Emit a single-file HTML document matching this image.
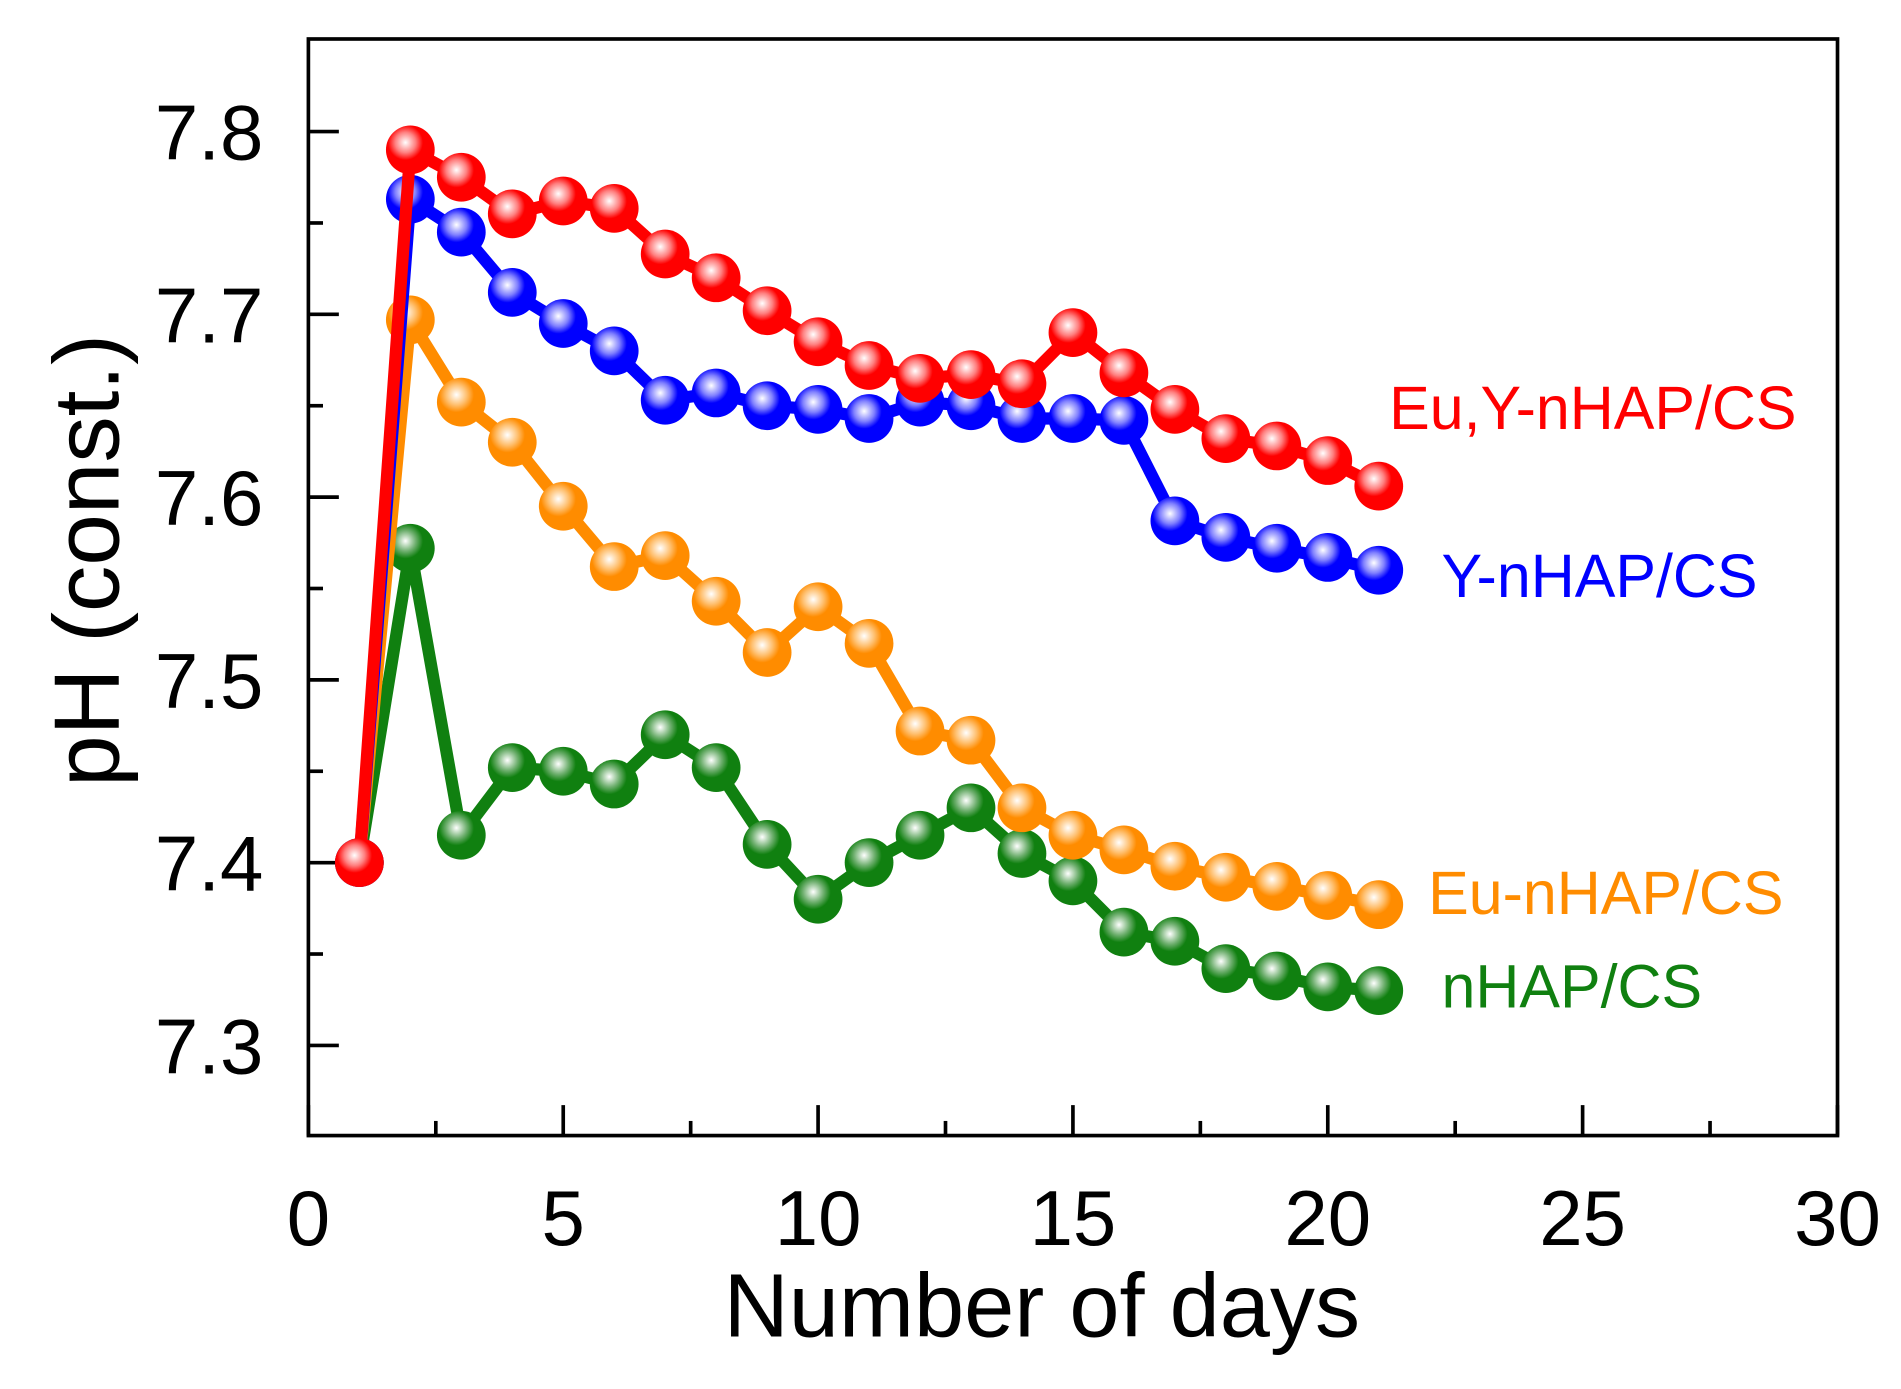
<!DOCTYPE html>
<html><head><meta charset="utf-8"><style>html,body{margin:0;padding:0;background:#fff}svg{display:block}</style></head><body>
<svg width="1901" height="1389" viewBox="0 0 1560 1140" xmlns="http://www.w3.org/2000/svg" font-family="Liberation Sans, Arial, sans-serif">
<defs>
<radialGradient id="gr" cx="0.4" cy="0.35" r="0.6"><stop offset="0" stop-color="#fff"/><stop offset="0.35" stop-color="#ff8080"/><stop offset="0.6" stop-color="#f00"/></radialGradient>
<radialGradient id="gb" cx="0.4" cy="0.35" r="0.6"><stop offset="0" stop-color="#fff"/><stop offset="0.35" stop-color="#8080ff"/><stop offset="0.6" stop-color="#00f"/></radialGradient>
<radialGradient id="go" cx="0.4" cy="0.35" r="0.6"><stop offset="0" stop-color="#fff"/><stop offset="0.35" stop-color="#ffc070"/><stop offset="0.6" stop-color="#ff8c00"/></radialGradient>
<radialGradient id="gg" cx="0.4" cy="0.35" r="0.6"><stop offset="0" stop-color="#fff"/><stop offset="0.35" stop-color="#70b070"/><stop offset="0.6" stop-color="#108010"/></radialGradient>
</defs>
<rect x="253" y="32" width="1255" height="900" fill="none" stroke="#000" stroke-width="3"/>
<g id="ticks" stroke="#000" stroke-width="3"></g>
<g font-size="64" fill="#000" text-anchor="end" id="ylab"></g>
<g font-size="64" fill="#000" text-anchor="middle" id="xlab"></g>
<text x="855" y="1097" font-size="74" text-anchor="middle">Number of days</text>
<text transform="translate(97,460) rotate(-90)" font-size="76" text-anchor="middle">pH (const.)</text>
<g id="series"></g>
<text x="1140" y="352" font-size="50" fill="#f00">Eu,Y-nHAP/CS</text>
<text x="1183" y="490" font-size="50" fill="#00f">Y-nHAP/CS</text>
<text x="1172" y="750" font-size="50" fill="#ff8c00">Eu-nHAP/CS</text>
<text x="1183" y="827" font-size="50" fill="#108010">nHAP/CS</text>
<script>
var NS="http://www.w3.org/2000/svg";
function X(d){return 253+d*41.833;}function Y(v){return 108+(7.8-v)*1500;}
function el(t,a,p,txt){var e=document.createElementNS(NS,t);for(var k in a)e.setAttribute(k,a[k]);if(txt)e.textContent=txt;p.appendChild(e);return e;}
var tk=document.getElementById('ticks');
for(var i=0;i<=12;i++){var x=253+i*104.58;var L=i%2?12:25;el('line',{x1:x,y1:932,x2:x,y2:932-L},tk);}
for(var v=7.25;v<7.86;v+=0.05){var y=Y(v);if(y<34||y>930)continue;var maj=Math.round(v*100)%10==0;el('line',{x1:253,y1:y,x2:253+(maj?25:12),y2:y},tk);}
var yl=document.getElementById('ylab');
[7.3,7.4,7.5,7.6,7.7,7.8].forEach(function(v){el('text',{x:216,y:Y(v)+23},yl,v.toFixed(1));});
var xl=document.getElementById('xlab');
[0,5,10,15,20,25,30].forEach(function(d){el('text',{x:X(d),y:1022},xl,''+d);});
var S=[
["#108010","gg",[[1,7.40],[2,7.572],[3,7.415],[4,7.452],[5,7.45],[6,7.443],[7,7.47],[8,7.452],[9,7.41],[10,7.38],[11,7.4],[12,7.415],[13,7.43],[14,7.405],[15,7.39],[16,7.362],[17,7.357],[18,7.342],[19,7.338],[20,7.332],[21,7.33]]],
["#ff8c00","go",[[1,7.40],[2,7.697],[3,7.652],[4,7.63],[5,7.595],[6,7.562],[7,7.568],[8,7.543],[9,7.515],[10,7.54],[11,7.52],[12,7.472],[13,7.467],[14,7.43],[15,7.415],[16,7.407],[17,7.398],[18,7.392],[19,7.387],[20,7.382],[21,7.377]]],
["#0000ff","gb",[[1,7.40],[2,7.763],[3,7.745],[4,7.712],[5,7.695],[6,7.68],[7,7.653],[8,7.657],[9,7.65],[10,7.648],[11,7.643],[12,7.652],[13,7.65],[14,7.643],[15,7.643],[16,7.642],[17,7.587],[18,7.578],[19,7.572],[20,7.567],[21,7.56]]],
["#ff0000","gr",[[1,7.40],[2,7.79],[3,7.775],[4,7.755],[5,7.762],[6,7.758],[7,7.733],[8,7.72],[9,7.702],[10,7.685],[11,7.672],[12,7.665],[13,7.667],[14,7.662],[15,7.69],[16,7.668],[17,7.648],[18,7.632],[19,7.628],[20,7.62],[21,7.606]]]];
var sg=document.getElementById('series');
S.forEach(function(s){var pts=s[2].map(function(p){return X(p[0])+','+Y(p[1]);}).join(' ');
el('polyline',{points:pts,fill:'none',stroke:s[0],'stroke-width':10,'stroke-linejoin':'round'},sg);
s[2].forEach(function(p){el('circle',{cx:X(p[0]),cy:Y(p[1]),r:20,fill:'url(#'+s[1]+')'},sg);});});
</script>
</svg>
</body></html>
